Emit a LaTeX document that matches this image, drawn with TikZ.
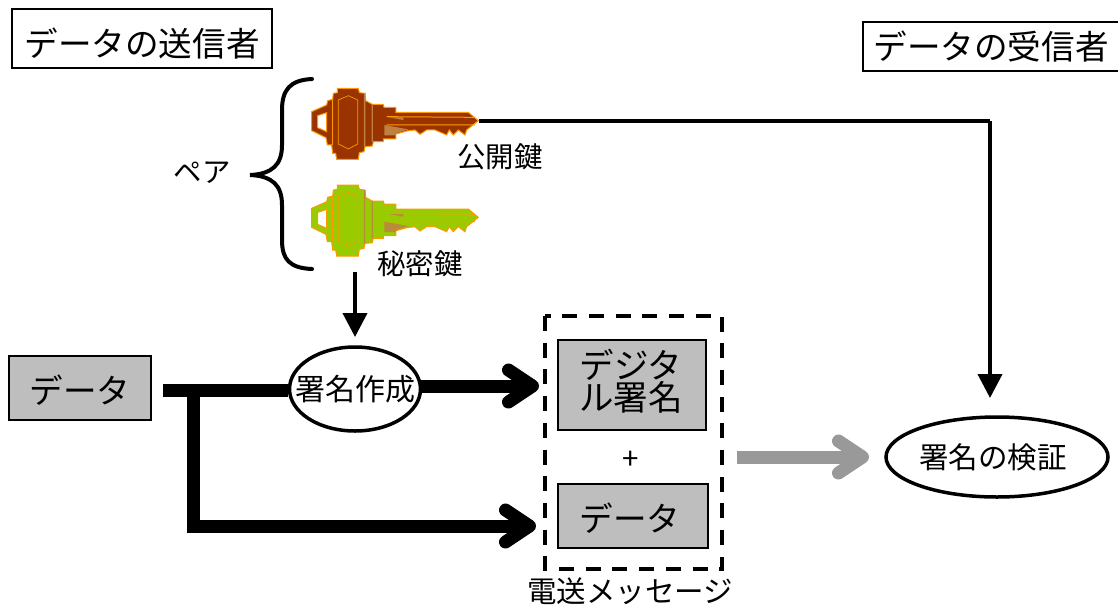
\documentclass[tikz,border=0pt]{standalone}
\usepackage{fontspec}
\setmainfont{Noto Sans CJK JP}
\usepackage{tikz}
\usetikzlibrary{arrows.meta,shapes.geometric}
\definecolor{boxgray}{HTML}{BEBEBE}
\definecolor{arrowgray}{HTML}{999999}
\definecolor{pubbody}{HTML}{993300}
\definecolor{pubedge}{HTML}{FF9900}
\definecolor{pubband}{HTML}{C08040}
\definecolor{secbody}{HTML}{99CC00}
\definecolor{secband}{HTML}{B98B3A}
\tikzset{
	textbig/.style={font=\fontsize{33.6}{38}\selectfont},
	textmid/.style={font=\fontsize{29.5}{34}\selectfont},
	textsmall/.style={font=\fontsize{28.4}{32}\selectfont},
	titlebox/.style={draw,line width=1.5pt,textbig,inner sep=0pt,anchor=center},
	graybox/.style={draw,line width=1.5pt,fill=boxgray,textbig,inner sep=0pt,align=center},
	procnode/.style={draw,ellipse,line width=3.5pt,fill=white,textmid,inner sep=-14pt},
	thinarrow/.style={line width=4pt,-{Triangle[length=24pt,width=24pt]}},
	fatline/.style={line width=13pt},
	fatarrow/.style={line width=13pt,-{Straight Barb[length=24pt,width=32pt,round]}},
}
\newcommand{\KeyIcon}[5]{
	\begin{scope}[shift={(#1,#2)},x=0.3333pt,y=-0.3333pt]
		\fill[#3,draw=#4,line width=1pt,even odd rule] (65,125)--(110,105)--(113,92)--(128,88)--(130,70)--(142,68)--(142,55)--(205,55)--(208,68)--(225,70)--(227,92)--(247,103)--(280,103)--(282,112)--(318,112)--(318,127)--(535,127)--(565,152)--(530,180)--(525,195)--(505,180)--(490,195)--(478,180)--(470,195)--(435,180)--(410,180)--(390,193)--(375,180)--(350,183)--(318,192)--(318,207)--(280,207)--(280,215)--(250,215)--(247,228)--(225,230)--(222,245)--(208,248)--(205,268)--(140,268)--(137,250)--(128,250)--(125,225)--(112,225)--(108,203)--(65,182)--cycle (83,137)--(110,128)--(110,185)--(83,173)--cycle;
		\draw[#4,line width=0.7pt] (145,90)--(175,77)--(203,90)--(203,222)--(175,237)--(145,222)--cycle;
		\draw[#4,line width=1pt] (127,90)--(127,226);
		\fill[#5] (222,70)--(226,70)--(226,230)--(222,230)--cycle (245,103)--(249,103)--(249,215)--(245,215)--cycle (283,165)--(355,178)--(318,190)--(318,196)--(283,196)--cycle (295,142)--(340,142)--(340,150)--cycle;
		\draw[#4,line width=1pt] (290,140)--(555,142) (290,165)--(555,165);
	\end{scope}
}

\begin{document}
\begin{tikzpicture}[x=1pt,y=-1pt]
	\useasboundingbox (0,0) rectangle (1118,608);
	\KeyIcon{290}{70}{pubbody}{pubedge}{pubband}
	\KeyIcon{290}{166.7}{secbody}{pubedge}{secband}
	\node[titlebox,minimum width=260pt,minimum height=59pt,text height=40pt,text depth=4pt] (sender) at (142,38.5) {データの送信者};
	\node[titlebox,minimum width=256pt,minimum height=49pt] (receiver) at (991,46.5) {データの受信者};
	\node[textsmall] (pair) at (202,173) {ペア};
	\node[textsmall] (pubname) at (500,157) {公開鍵};
	\node[textsmall] (secname) at (420,264) {秘密鍵};
	\node[graybox,minimum width=142pt,minimum height=64pt,text height=34pt,text depth=4pt] (data) at (80,388) {データ};
	\node[procnode,minimum width=131pt,minimum height=84pt,font=\fontsize{30}{34}\selectfont] (sigmake) at (355,389) {署名作成};
	\draw[line width=3.5pt,dashed,dash pattern=on 15pt off 11.7pt] (545,316) rectangle (722,569);
	\node[graybox,minimum width=148pt,minimum height=90pt,label={[font=\fontsize{34.5}{32}\selectfont,align=center,xshift=-1pt,yshift=3.5pt]center:デジタ\\ル署名}] (sigbox) at (632,385) {};
	\node[textmid] (plus) at (631,460) {+};
	\node[graybox,minimum width=150pt,minimum height=64pt,text height=34pt,text depth=4pt] (databox) at (633,516) {データ\hspace*{6pt}};
	\node[textmid] (msgname) at (630,591) {電送メッセージ};
	\node[procnode,minimum width=222pt,minimum height=80pt] (verify) at (997,457) {署名の検証\hspace*{8pt}};
	\coordinate (pubend) at (479,121);
	\coordinate (corner) at (990,121);
	\coordinate (secend) at (355,272);
	\coordinate (start) at (163,390);
	\coordinate (branch) at (193,390);
	\coordinate (low) at (193,526);
	\coordinate (sigout) at (421,386);
	\coordinate (sigin) at (539,386);
	\coordinate (datain) at (536,526);
	\coordinate (grayout) at (737,457);
	\coordinate (grayin) at (869,457);
	\draw[line width=4pt,line cap=round] (312,79) .. controls (290,80) and (282,90) .. (282,110) -- (282,145) .. controls (282,165) and (272,174) .. (250,175) .. controls (272,176) and (282,185) .. (282,205) -- (282,240) .. controls (282,260) and (290,268) .. (312,269);
	\draw[line width=4pt] (pubend) -- (corner);
	\draw[thinarrow] (corner) -- (990,398);
	\draw[thinarrow] (secend) -- (355,337);
	\draw[fatline] (start) -- (sigmake.west |- start);
	\draw[fatarrow] (sigout) -- (sigin);
	\draw[fatarrow] (branch) -- (low) -- (datain);
	\draw[fatarrow,arrowgray] (grayout) -- (grayin);
\end{tikzpicture}
\end{document}
